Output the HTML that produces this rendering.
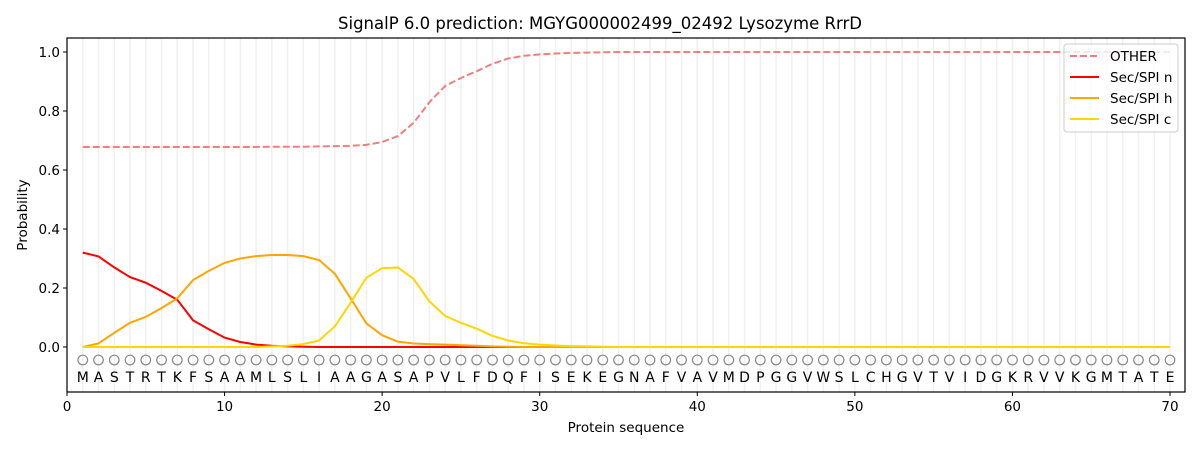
<!DOCTYPE html>
<html><head><meta charset="utf-8"><style>
html,body{margin:0;padding:0;background:#fff;}
svg text{font-family:"DejaVu Sans","Liberation Sans",sans-serif;}
</style></head><body>
<svg id="s" width="1200" height="450" xmlns="http://www.w3.org/2000/svg"></svg>
<script>
const s=document.getElementById('s');
const X0=67,X1=1185,Y0=38,Y1=392;
const xs=v=>X0+v*(1170-67)/70;
const ys=v=>347-v*295;
let h='';
const seq="MASTRTKFSAAMLSLIAAGASAPVLFDQFISEKEGNAFVAVMDPGGVWSLCHGVTVIDGKRVVKGMTATE";
for(let i=1;i<=70;i++){h+=`<line x1="${xs(i)}" y1="${Y0}" x2="${xs(i)}" y2="${Y1}" stroke="#f0f0f0" stroke-width="1.5"/>`;}
const other=[.678,.678,.678,.678,.678,.678,.678,.678,.678,.678,.678,.678,.679,.679,.679,.68,.681,.682,.685,.695,.715,.76,.83,.885,.912,.935,.96,.978,.987,.992,.995,.997,.998,.999];
while(other.length<70)other.push(1.0);
const n=[.32,.307,.27,.237,.218,.19,.16,.09,.06,.032,.017,.008,.004,.002,.001];while(n.length<70)n.push(0);
const hh=[0,.012,.048,.082,.102,.132,.165,.227,.258,.285,.3,.308,.312,.312,.308,.295,.248,.165,.08,.04,.018,.012,.01,.008,.006,.004,.002,.001];while(hh.length<70)hh.push(0);
const c=[0,0,0,0,0,0,0,0,0,0,0,0,.002,.004,.01,.022,.07,.15,.235,.267,.27,.23,.155,.105,.082,.062,.038,.022,.013,.008,.005,.003,.002,.001];while(c.length<70)c.push(0);
const pl=(a,col,extra)=>`<polyline fill="none" stroke="${col}" stroke-width="2" ${extra||''} points="${a.map((v,i)=>xs(i+1).toFixed(1)+','+ys(v).toFixed(1)).join(' ')}"/>`;
h+=pl(other,'#f08080','stroke-dasharray="7,3"');
h+=pl(n,'#ff0000');h+=pl(hh,'#ffa500');h+=pl(c,'#ffd700');
for(let i=1;i<=70;i++){
 h+=`<circle cx="${xs(i)}" cy="360" r="4.8" fill="none" stroke="#888" stroke-width="1.2"/>`;
 h+=`<text x="${xs(i)}" y="382" font-size="14" text-anchor="middle" fill="#000">${seq[i-1]}</text>`;
}
h+=`<rect x="${X0}" y="${Y0}" width="${X1-X0}" height="${Y1-Y0}" fill="none" stroke="#000" stroke-width="1.2"/>`;
for(let t=0;t<=70;t+=10){h+=`<line x1="${xs(t)}" y1="${Y1}" x2="${xs(t)}" y2="${Y1+4}" stroke="#000"/><text x="${xs(t)}" y="${Y1+19}" font-size="13.5" text-anchor="middle">${t}</text>`;}
for(let t=0;t<=5;t++){const v=t*0.2;h+=`<line x1="${X0-4}" y1="${ys(v)}" x2="${X0}" y2="${ys(v)}" stroke="#000"/><text x="${X0-7}" y="${ys(v)+5}" font-size="13.5" text-anchor="end">${v.toFixed(1)}</text>`;}
h+=`<text x="600" y="29" font-size="16.5" text-anchor="middle">SignalP 6.0 prediction: MGYG000002499_02492 Lysozyme RrrD</text>`;
h+=`<text x="626" y="432" font-size="13.5" text-anchor="middle">Protein sequence</text>`;
h+=`<text transform="translate(27,215) rotate(-90)" font-size="13.5" text-anchor="middle">Probability</text>`;
h+=`<rect x="1064" y="44" width="114" height="88" rx="3" fill="#fff" fill-opacity="0.8" stroke="#ccc"/>`;
const L=[['OTHER','#f08080',1],['Sec/SPI n','#ff0000'],['Sec/SPI h','#ffa500'],['Sec/SPI c','#ffd700']];
L.forEach((l,i)=>{const y=56+i*21;h+=`<line x1="1070" y1="${y}" x2="1099" y2="${y}" stroke="${l[1]}" stroke-width="2" ${l[2]?'stroke-dasharray="7,3"':''}/><text x="1110" y="${y+5}" font-size="13.5">${l[0]}</text>`;});
s.innerHTML=h;
</script>
</body></html>
